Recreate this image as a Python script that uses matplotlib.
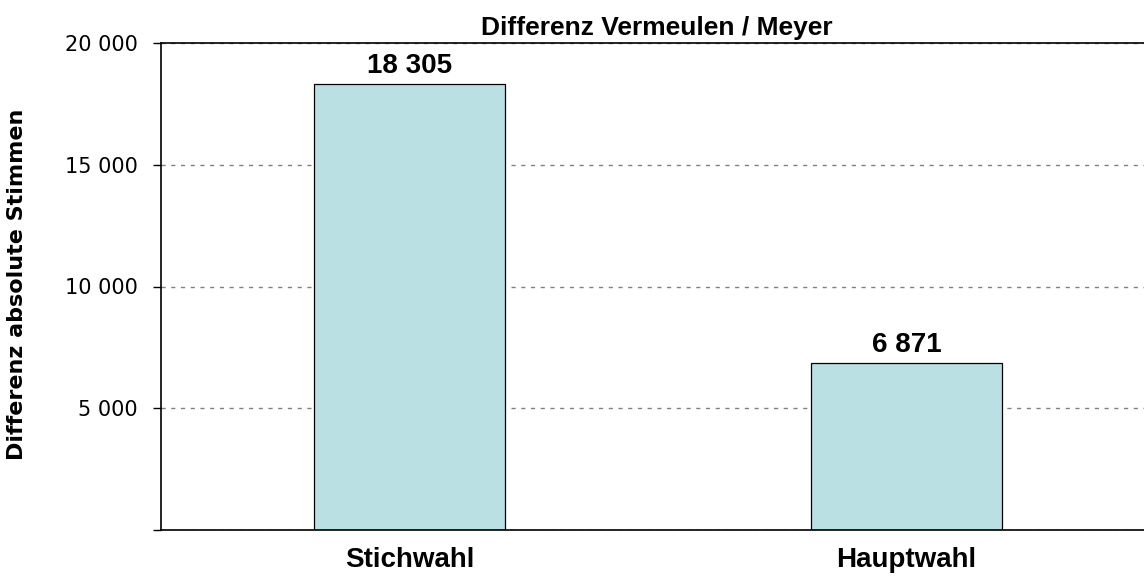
import matplotlib.pyplot as plt

categories = ["Stichwahl", "Hauptwahl"]
values = [18305, 6871]
yticks = [0, 5000, 10000, 15000, 20000]

plt.rcParams['font.family'] = ['Liberation Sans', 'DejaVu Sans']

def fmt(v):
    return f"{v:,}".replace(",", " ")

W, H = 1144, 577
fig = plt.figure(figsize=(W / 100, H / 100), dpi=100)
ax = fig.add_axes([161 / W, 1 - 530 / H, (1155 - 161) / W, (530 - 43) / H])

x = range(len(categories))
ax.bar(x, values, width=0.385, color='#bae0e3', edgecolor='black', linewidth=0.9, zorder=3)

ax.set_xlim(-0.5, 1.5)
ax.set_ylim(0, 20000)
ax.set_yticks(yticks)
ax.set_yticklabels(["" if v == 0 else fmt(v) for v in yticks], fontsize=15, family='DejaVu Sans')
ax.set_xticks(list(x))
ax.set_xticklabels(categories, fontsize=20, fontweight='bold')
ax.tick_params(axis='x', length=0, pad=12)
ax.tick_params(axis='y', length=6, width=1, direction='out', pad=11)

ax.grid(axis='y', linestyle=(0, (3, 4)), color='#808080', linewidth=1, zorder=0)
ax.spines['right'].set_visible(False)
for s in ['left', 'bottom', 'top']:
    ax.spines[s].set_linewidth(1.2)
    ax.spines[s].set_zorder(4)

for xi, v in zip(x, values):
    ax.annotate(fmt(v), (xi, v), xytext=(0, 8), textcoords='offset points',
                ha='center', va='baseline', fontsize=20, fontweight='bold')

fig.text(17 / W, 1 - 284 / H, "Differenz absolute Stimmen", rotation=90, ha='center', va='center',
         fontsize=16, fontweight='bold', family='DejaVu Sans')
fig.text(657 / W, 1 - 35 / H, "Differenz Vermeulen / Meyer", ha='center', va='baseline',
         fontsize=19, fontweight='bold')

fig.savefig("out.png", dpi=100)
